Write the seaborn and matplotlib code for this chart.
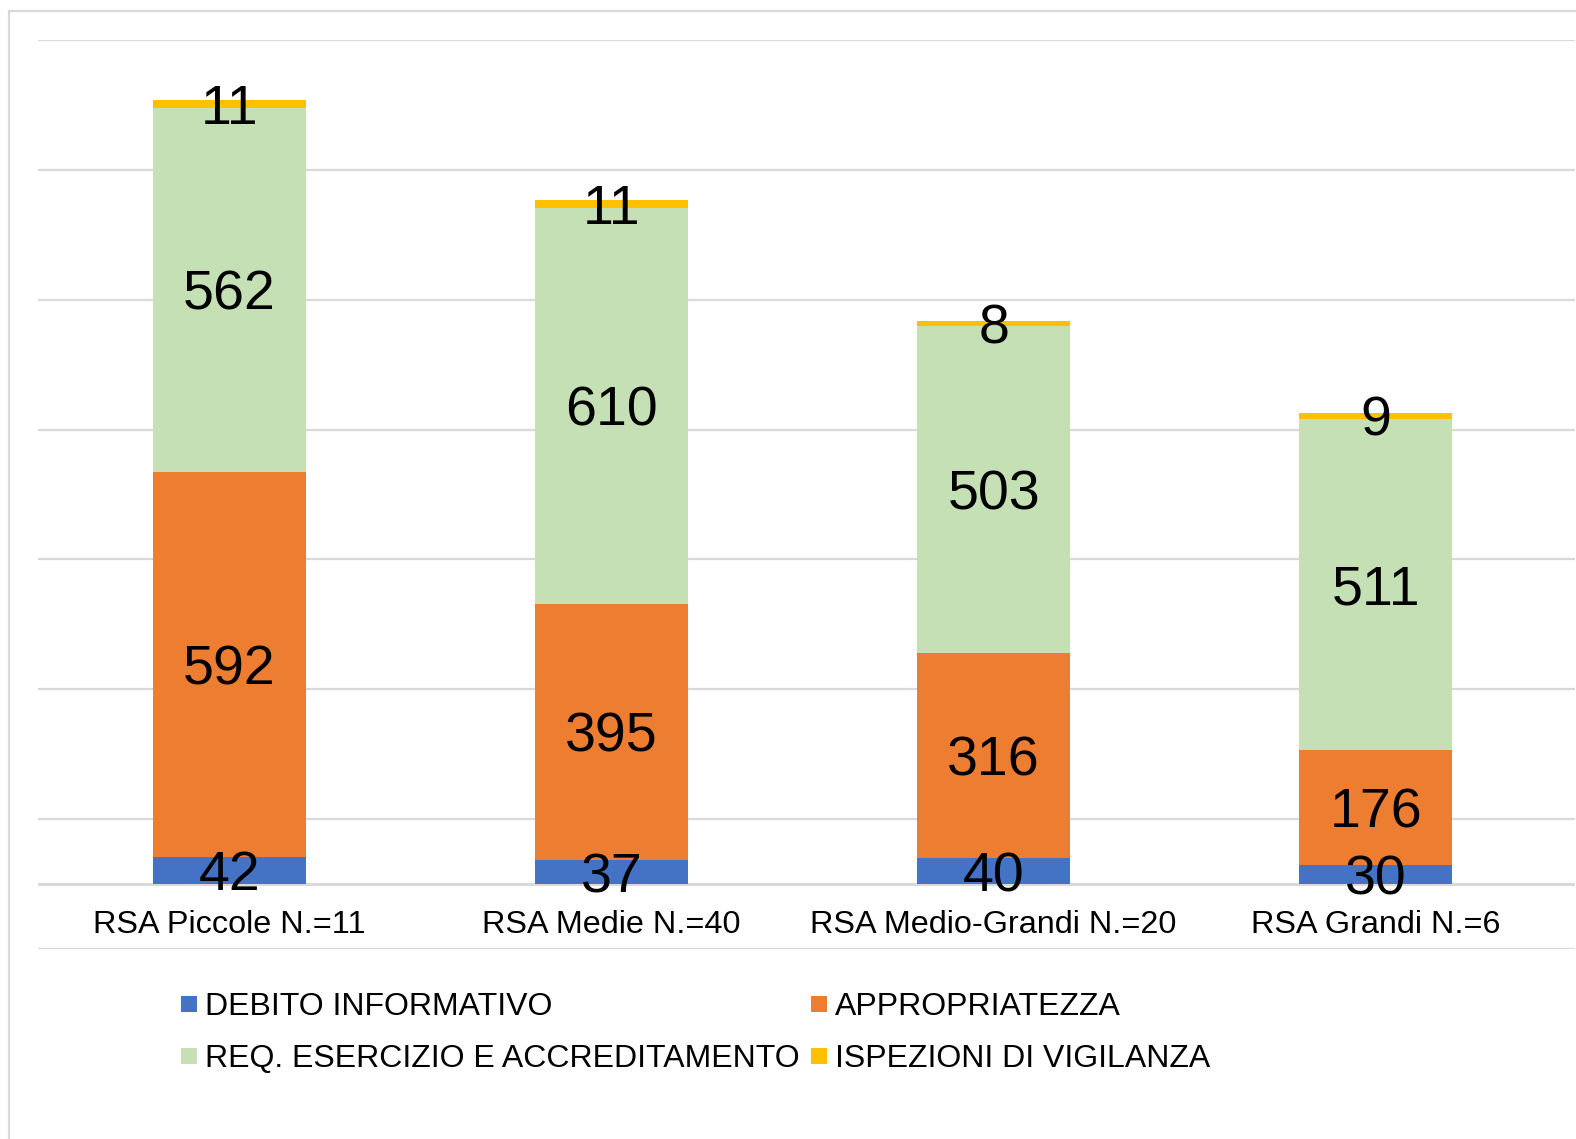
import matplotlib
matplotlib.use("Agg")
import matplotlib.pyplot as plt
import seaborn as sns
import numpy as np
from matplotlib.lines import Line2D

categories = ["RSA Piccole N.=11", "RSA Medie N.=40", "RSA Medio-Grandi N.=20", "RSA Grandi N.=6"]
series_names = ["DEBITO INFORMATIVO", "APPROPRIATEZZA",
                "REQ. ESERCIZIO E ACCREDITAMENTO", "ISPEZIONI DI VIGILANZA"]
debito = [42, 37, 40, 30]
appropriatezza = [592, 395, 316, 176]
requisiti = [562, 610, 503, 511]
ispezioni = [11, 11, 8, 9]
colors = ["#4472C4", "#ED7D31", "#C5E0B4", "#FFC000"]

sns.set_theme(style="white")
plt.rcParams['font.family'] = ['Liberation Sans', 'DejaVu Sans']
plt.rcParams['text.color'] = 'black'

W, H = 1576, 1139
fig = plt.figure(figsize=(W / 100, H / 100), dpi=100)
left, right, top, bottom = 38, 1575, 40, 949
ax = fig.add_axes([left / W, 1 - bottom / H, (right - left) / W, (bottom - top) / H])

layers = [debito, appropriatezza, requisiti, ispezioni]
cums = np.cumsum(np.array(layers, dtype=float), axis=0)

for i in range(len(layers) - 1, -1, -1):
    sns.barplot(x=categories, y=cums[i], color=colors[i], saturation=1,
                width=0.4, linewidth=0, edgecolor="none", ax=ax, zorder=2)

for i, layer in enumerate(layers):
    bottoms = cums[i] - np.array(layer)
    for j, v in enumerate(layer):
        ax.text(j, bottoms[j] + v / 2, str(v), ha="center", va="center_baseline",
                fontsize=40, color="black", zorder=5)

cat_w = (1567 - 38) / len(categories)
ax.set_xlim(-0.5, len(categories) - 0.5 + (right - 1567) / cat_w)
ax.set_ylim(-100, 1300)
ax.set_yticks(np.arange(-100, 1301, 200))
ax.set_yticklabels([])
ax.tick_params(axis="y", length=0)
ax.grid(axis="y", color="#D9D9D9", linewidth=1.6)
ax.set_axisbelow(True)
for s in ax.spines.values():
    s.set_visible(False)
ax.axhline(0, color="#D9D9D9", linewidth=2.2, zorder=1)

ax.set_xticks([])
ax.set_xlabel("")
ax.set_ylabel("")
for j, c in enumerate(categories):
    ax.text(j, -57, c, ha="center", va="center_baseline", fontsize=23.3, color="black")

handles = [Line2D([0], [0], marker="s", linestyle="none", markersize=11.5,
                  markerfacecolor=colors[k], markeredgewidth=0) for k in range(4)]
order = [0, 2, 1, 3]
fig.legend([handles[k] for k in order], [series_names[k] for k in order],
           ncol=2, loc="upper left", bbox_to_anchor=(181 / W, 1 - 992 / H),
           frameon=False, fontsize=23, labelcolor="black",
           handlelength=0.5, handletextpad=0.25,
           columnspacing=0.36, labelspacing=0.68, borderaxespad=0, borderpad=0)

fig.add_artist(Line2D([9 / W, 9 / W], [0, 1 - 11 / H], transform=fig.transFigure,
                      color="#D9D9D9", linewidth=1.6))
fig.add_artist(Line2D([9 / W, 1], [1 - 11 / H, 1 - 11 / H], transform=fig.transFigure,
                      color="#D9D9D9", linewidth=1.6))

fig.savefig("out.png", dpi=100, facecolor="white")
